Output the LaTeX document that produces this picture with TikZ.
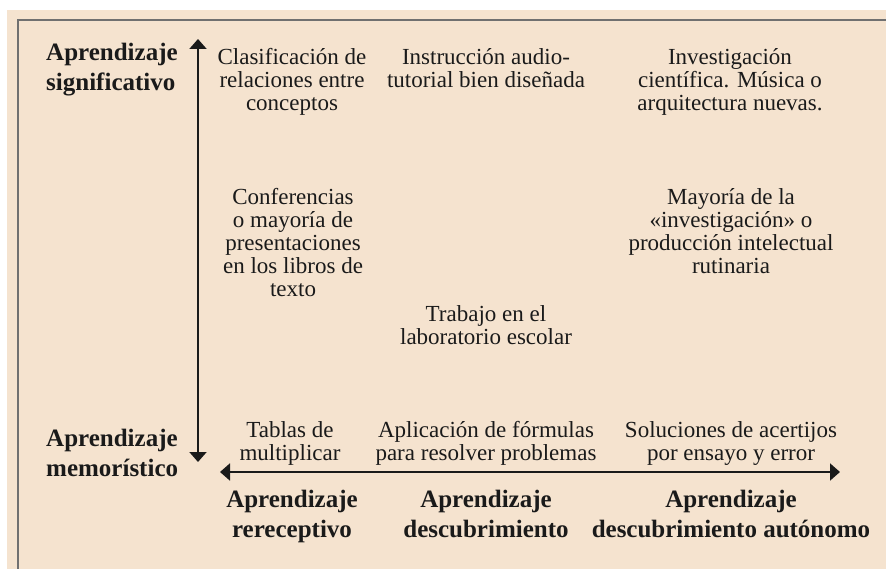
\documentclass[tikz,border=0pt]{standalone}
\usepackage{fontspec}
\setmainfont{Liberation Serif}
\usetikzlibrary{arrows.meta}
\definecolor{paper}{HTML}{F5E3CF}
\definecolor{framegray}{HTML}{707070}
\definecolor{ink}{HTML}{1A1A1A}
\begin{document}
\begin{tikzpicture}[x=1pt, y=-1pt, item node/.style={align=center,anchor=base,inner sep=0pt,text=ink,font=\fontsize{23}{23}\selectfont}, axis label/.style={align=center,anchor=base,inner sep=0pt,text=ink,font=\fontsize{25}{30}\selectfont\bfseries}, axis/.style={draw=ink,line width=2pt,{Triangle[length=10pt,width=17pt]}-{Triangle[length=10pt,width=17pt]}}]%
\useasboundingbox (0,0) rectangle (886,569);
\fill[white] (0,0) rectangle (886,569);
\fill[paper] (7,10) rectangle (886,569);
\draw[framegray,line width=1.5pt] (18,569) -- (18,20) -- (886,20);
% nodes sit on the baseline of their last line
\begin{scope}[every node/.style={item node}]
\node (n1) at (292,111) {Clasificación de\\relaciones entre\\conceptos};
\node (n2) at (486,88) {Instrucción audio-\\tutorial bien diseñada};
\node (n3) at (730,111) {Investigación\\científica. Música o\\arquitectura nuevas.};
\node (n4) at (293,297) {Conferencias\\o mayoría de\\presentaciones\\en los libros de\\texto};
\node (n5) at (731,274) {Mayoría de la\\«investigación» o\\producción intelectual\\rutinaria};
\node (n6) at (486,344) {Trabajo en el\\laboratorio escolar};
\node (n7) at (290,460) {Tablas de\\multiplicar};
\node (n8) at (486,460) {Aplicación de fórmulas\\para resolver problemas};
\node (n9) at (731,460) {Soluciones de acertijos\\por ensayo y error};
\end{scope}
\begin{scope}[every node/.style={axis label}]
\node[align=left,anchor=base west] (l1) at (46,91) {Aprendizaje\\significativo};
\node[align=left,anchor=base west] (l2) at (46,476) {Aprendizaje\\memorístico};
\node (l3) at (292,537) {Aprendizaje\\rereceptivo};
\node (l4) at (486,537) {Aprendizaje\\descubrimiento};
\node (l5) at (731,537) {Aprendizaje\\descubrimiento autónomo};
\end{scope}
\coordinate (vtop) at (198,39);
\coordinate (vbot) at (198,462);
\coordinate (hleft) at (220,472);
\coordinate (hright) at (840,472);
\draw[axis] (vbot) -- (vtop);
\draw[axis] (hleft) -- (hright);
\end{tikzpicture}
\end{document}
